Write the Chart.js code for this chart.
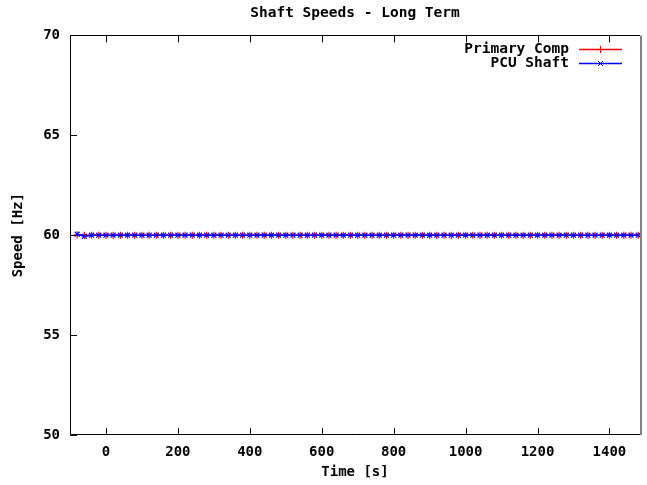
<!DOCTYPE html>
<html>
<head>
<meta charset="utf-8">
<title>Shaft Speeds - Long Term</title>
<script src="https://cdn.jsdelivr.net/npm/chart.js@4.4.1/dist/chart.umd.min.js"></script>
<style>
html, body { margin: 0; padding: 0; background: #fff; }
#wrap { width: 647px; height: 485px; }
</style>
</head>
<body>
<div id="wrap"><canvas id="speed-chart" width="647" height="485"></canvas></div>
<script>
// sample times [s], one reading every 20 s
const times = [
    -80, -60, -40, -20, 0, 20, 40, 60, 80, 100,
    120, 140, 160, 180, 200, 220, 240, 260, 280, 300,
    320, 340, 360, 380, 400, 420, 440, 460, 480, 500,
    520, 540, 560, 580, 600, 620, 640, 660, 680, 700,
    720, 740, 760, 780, 800, 820, 840, 860, 880, 900,
    920, 940, 960, 980, 1000, 1020, 1040, 1060, 1080, 1100,
    1120, 1140, 1160, 1180, 1200, 1220, 1240, 1260, 1280, 1300,
    1320, 1340, 1360, 1380, 1400, 1420, 1440, 1460, 1480
];

// speeds [Hz]
const primaryComp = [
    60.02, 60.00, 60, 60, 60, 60, 60, 60, 60, 60,
    60, 60, 60, 60, 60, 60, 60, 60, 60, 60,
    60, 60, 60, 60, 60, 60, 60, 60, 60, 60,
    60, 60, 60, 60, 60, 60, 60, 60, 60, 60,
    60, 60, 60, 60, 60, 60, 60, 60, 60, 60,
    60, 60, 60, 60, 60, 60, 60, 60, 60, 60,
    60, 60, 60, 60, 60, 60, 60, 60, 60, 60,
    60, 60, 60, 60, 60, 60, 60, 60, 60
];
const pcuShaft = [
    60.05, 59.94, 60, 60, 60, 60, 60, 60, 60, 60,
    60, 60, 60, 60, 60, 60, 60, 60, 60, 60,
    60, 60, 60, 60, 60, 60, 60, 60, 60, 60,
    60, 60, 60, 60, 60, 60, 60, 60, 60, 60,
    60, 60, 60, 60, 60, 60, 60, 60, 60, 60,
    60, 60, 60, 60, 60, 60, 60, 60, 60, 60,
    60, 60, 60, 60, 60, 60, 60, 60, 60, 60,
    60, 60, 60, 60, 60, 60, 60, 60, 60
];

const xTicks = [0, 200, 400, 600, 800, 1000, 1200, 1400];
const yTicks = [50, 55, 60, 65, 70];

const FONT = 'DejaVu Sans Mono';
const RED = '#ff0000';
const BLUE = '#0000ff';

const toPoints = (vals) => times.map((t, i) => ({ x: t, y: vals[i] }));

// gnuplot style frame: border plus inward tick marks on bottom/top/left
const framePlugin = {
    id: 'frame',
    beforeDatasetsDraw(chart) {
        const { ctx, chartArea: a, scales } = chart;
        ctx.save();
        ctx.strokeStyle = '#000';
        ctx.lineWidth = 1;
        ctx.beginPath();
        xTicks.forEach(v => {
            const px = Math.round(scales.x.getPixelForValue(v)) + 0.5;
            ctx.moveTo(px, a.bottom);
            ctx.lineTo(px, a.bottom - 7);
            ctx.moveTo(px, a.top);
            ctx.lineTo(px, a.top + 7);
        });
        yTicks.forEach(v => {
            const py = Math.round(scales.y.getPixelForValue(v)) + 0.5;
            ctx.moveTo(a.left, py);
            ctx.lineTo(a.left + 7, py);
        });
        ctx.stroke();

        ctx.beginPath();
        const l = Math.round(a.left) + 0.5, t = Math.round(a.top) + 0.5, b = Math.round(a.bottom) - 0.5;
        ctx.moveTo(Math.round(a.right), t);
        ctx.lineTo(l, t);
        ctx.lineTo(l, b);
        ctx.lineTo(Math.round(a.right), b);
        ctx.stroke();

        ctx.strokeStyle = '#808080';
        ctx.lineWidth = 2;
        ctx.beginPath();
        ctx.moveTo(Math.round(a.right) + 1, a.top);
        ctx.lineTo(Math.round(a.right) + 1, a.bottom);
        ctx.stroke();
        ctx.restore();
    }
};

// key in the top right corner, text right-aligned before the sample line
const keyPlugin = {
    id: 'key',
    afterDraw(chart) {
        const { ctx } = chart;
        const rows = [
            { text: 'Primary Comp', color: RED, style: 'cross', y: 49.5 },
            { text: 'PCU Shaft', color: BLUE, style: 'crossRot', y: 63.5 }
        ];
        ctx.save();
        ctx.font = 'bold 14.5px "' + FONT + '"';
        ctx.fillStyle = '#000';
        ctx.textAlign = 'right';
        ctx.textBaseline = 'middle';
        rows.forEach(r => {
            ctx.fillText(r.text, 569, r.y);
            ctx.strokeStyle = r.color;
            ctx.lineWidth = 1.5;
            ctx.beginPath();
            ctx.moveTo(579, r.y);
            ctx.lineTo(622, r.y);
            ctx.stroke();
            ctx.lineWidth = 1;
            Chart.helpers.drawPoint(ctx, {
                pointStyle: r.style,
                radius: 3.5,
                borderWidth: 1,
                rotation: 0
            }, 600.5, r.y);
        });
        ctx.restore();
    }
};

const tickFont = { family: FONT, size: 14, weight: 'bold' };

new Chart(document.getElementById('speed-chart').getContext('2d'), {
    type: 'line',
    data: {
        datasets: [
            {
                label: 'Primary Comp',
                data: toPoints(primaryComp),
                borderColor: RED,
                pointBorderColor: RED,
                backgroundColor: RED,
                borderWidth: 1.5,
                pointStyle: 'cross',
                pointRadius: 3.5,
                pointBorderWidth: 1.2,
                tension: 0,
                fill: false,
                order: 1
            },
            {
                label: 'PCU Shaft',
                data: toPoints(pcuShaft),
                borderColor: BLUE,
                pointBorderColor: BLUE,
                backgroundColor: BLUE,
                borderWidth: 1.5,
                pointStyle: 'crossRot',
                pointRadius: 3.5,
                pointBorderWidth: 1.2,
                tension: 0,
                fill: false,
                order: 0
            }
        ]
    },
    options: {
        responsive: false,
        animation: false,
        layout: { padding: { top: 0, right: 7, bottom: 0, left: 0 } },
        plugins: {
            legend: { display: false },
            tooltip: { enabled: false },
            title: {
                display: true,
                fullSize: false,
                text: 'Shaft Speeds - Long Term',
                color: '#000',
                font: { family: FONT, size: 14.5, weight: 'bold' },
                padding: { top: 5, bottom: 13 }
            }
        },
        scales: {
            x: {
                type: 'linear',
                min: -100,
                max: 1485,
                afterBuildTicks: (s) => { s.ticks = xTicks.map(v => ({ value: v })); },
                afterFit: (s) => { s.height = 50; },
                grid: { display: false, drawTicks: false, tickLength: 0 },
                border: { display: false },
                ticks: {
                    color: '#000',
                    padding: 9,
                    maxRotation: 0,
                    font: tickFont,
                    callback: (v) => String(v)
                },
                title: {
                    display: true,
                    text: 'Time [s]',
                    color: '#000',
                    font: tickFont,
                    padding: { top: 0, bottom: 4 }
                }
            },
            y: {
                min: 50,
                max: 70,
                afterBuildTicks: (s) => { s.ticks = yTicks.map(v => ({ value: v })); },
                afterFit: (s) => { s.width = 70; },
                grid: { display: false, drawTicks: false, tickLength: 0 },
                border: { display: false },
                ticks: {
                    color: '#000',
                    padding: 10,
                    font: tickFont,
                    callback: (v) => String(v)
                },
                title: {
                    display: true,
                    text: 'Speed [Hz]',
                    color: '#000',
                    font: tickFont,
                    padding: { top: 10, bottom: 0 }
                }
            }
        }
    },
    plugins: [framePlugin, keyPlugin]
});
</script>
</body>
</html>
